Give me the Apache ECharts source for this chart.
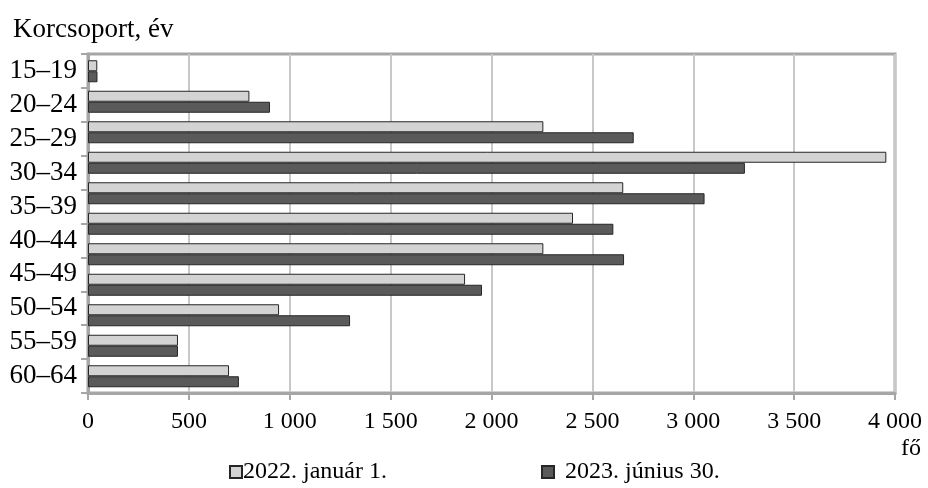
<!DOCTYPE html>
<html>
<head>
<meta charset="utf-8">
<script src="https://cdn.jsdelivr.net/npm/echarts@6/dist/echarts.min.js"></script>
<style>
  html, body { margin: 0; padding: 0; background: #fff; }
  #chart { width: 928px; height: 488px; }
</style>
</head>
<body>
<div id="chart"></div>
<script>
// Age-group labels shown on the vertical axis
const ageLabels = ['15–19', '20–24', '25–29', '30–34', '35–39', '40–44', '45–49', '50–54', '55–59', '60–64'];

// Headcount (fő) per bar row, top to bottom
const jan2022 = [46, 800, 2257, 3957, 2653, 2404, 2257, 1869, 947, 446, 699];
const jun2023 = [47, 902, 2705, 3256, 3056, 2604, 2657, 1953, 1299, 446, 748];

// Horizontal scale ticks
const xMin = 0, xMax = 4000, xStep = 500;

const seriesNames = ['2022. január 1.', '2023. június 30.'];
const barRows = jan2022.map((_, i) => String(i));

const FONT = '"Liberation Serif", "Times New Roman", serif';
const AXIS_GRAY = '#a6a6a6';

const fmtThousands = v => String(v).replace(/\B(?=(\d{3})+(?!\d))/g, '\u00a0');

const chart = echarts.init(document.getElementById('chart'), null, { renderer: 'canvas' });

chart.setOption({
  animation: false,
  backgroundColor: '#ffffff',
  textStyle: { fontFamily: FONT, color: '#000' },
  title: [
    { text: 'Korcsoport, év', left: 8, top: 11,
      textStyle: { fontFamily: FONT, fontSize: 27, fontWeight: 'normal', color: '#000' } },
    { text: 'fő', right: 2, top: 432,
      textStyle: { fontFamily: FONT, fontSize: 24, fontWeight: 'normal', color: '#000' } }
  ],
  legend: [
    { data: [seriesNames[0]], left: 224, top: 455, itemWidth: 12, itemHeight: 12, itemGap: 0,
      icon: 'rect', textStyle: { fontFamily: FONT, fontSize: 24, color: '#000', padding: [0, 0, 0, -4] } },
    { data: [seriesNames[1]], left: 536, top: 455, itemWidth: 12, itemHeight: 12, itemGap: 0,
      icon: 'rect', textStyle: { fontFamily: FONT, fontSize: 24, color: '#000', padding: [0, 0, 0, 6] } }
  ],
  grid: [
    // frame, axes and gridlines
    { left: 88, right: 33, top: 54, bottom: 95, show: true, borderColor: AXIS_GRAY, borderWidth: 3,
      backgroundColor: 'transparent' },
    // bar rows
    { left: 88, right: 33, top: 56, bottom: 96.5 }
  ],
  xAxis: [
    { gridIndex: 0, type: 'value', min: xMin, max: xMax, interval: xStep,
      axisLine: { show: true, lineStyle: { color: AXIS_GRAY, width: 3 } },
      axisTick: { show: true, length: 7, lineStyle: { color: AXIS_GRAY, width: 2 } },
      splitLine: { show: true, lineStyle: { color: '#c8c8c8', width: 2 } },
      axisLabel: { color: '#000', fontFamily: FONT, fontSize: 24, margin: 17, formatter: fmtThousands } },
    { gridIndex: 1, type: 'value', min: xMin, max: xMax, interval: xStep, show: false }
  ],
  yAxis: [
    { gridIndex: 0, type: 'category', data: ageLabels, inverse: true,
      axisLine: { show: true, lineStyle: { color: AXIS_GRAY, width: 3 } },
      axisTick: { show: true, inside: false, length: 7, interval: 0, lineStyle: { color: AXIS_GRAY, width: 2 } },
      splitLine: { show: false },
      axisLabel: { interval: 0, color: '#000', fontFamily: FONT, fontSize: 27, margin: 11 } },
    { gridIndex: 1, type: 'category', data: barRows, inverse: true, show: false }
  ],
  series: [
    { name: seriesNames[0], type: 'bar', xAxisIndex: 1, yAxisIndex: 1, data: jan2022,
      barWidth: 11, barGap: '0%',
      itemStyle: { color: '#d3d3d3', borderColor: '#262626', borderWidth: 1 } },
    { name: seriesNames[1], type: 'bar', xAxisIndex: 1, yAxisIndex: 1, data: jun2023,
      barWidth: 11, barGap: '0%',
      itemStyle: { color: '#5a5a5a', borderColor: '#262626', borderWidth: 1 } }
  ]
});
</script>
</body>
</html>
